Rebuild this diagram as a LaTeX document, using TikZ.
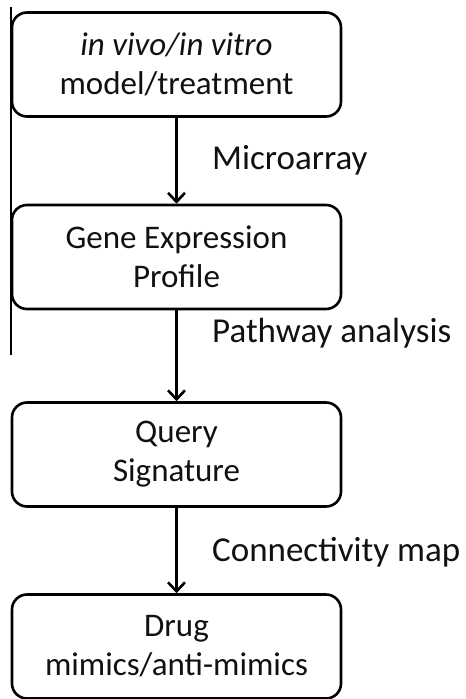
\documentclass[tikz,border=0pt]{standalone}
\usepackage{fontspec}
\setmainfont{Carlito}
\usetikzlibrary{arrows.meta}
\definecolor{ink}{HTML}{111111}
\begin{document}
\begin{tikzpicture}[x=1pt,y=-1pt,
  flowbox/.style={draw=black, line width=2.6pt, rounded corners=15pt,
    minimum width=329pt, minimum height=104pt, align=center,
    font=\fontsize{33}{39}\selectfont, text=ink, inner sep=0pt},
  lbl/.style={anchor=west, font=\fontsize{35}{40}\selectfont, text=ink, inner sep=0pt},
  flow/.style={line width=2.8pt, -{Straight Barb[length=9pt,width=17pt,line width=2.6pt]}}]
\useasboundingbox (0,0) rectangle (466,699);
\fill[white] (0,0) rectangle (466,699);
\coordinate (ltop) at (11,7);
\coordinate (lbot) at (11,355);
\draw[line width=1.3pt] (ltop) -- (lbot);
\node[flowbox] (b1) at (176.5,64.5) {\textit{in vivo/in vitro}\\model/treatment};
\node[flowbox] (b2) at (176.5,257) {Gene Expression\\Profile};
\node[flowbox] (b3) at (176.5,454.5) {Query\\Signature};
\node[flowbox] (b4) at (176.5,646.5) {Drug\\mimics/anti-mimics};
\draw[flow] (b1) -- (b2);
\draw[flow] (b2) -- (b3);
\draw[flow] (b3) -- (b4);
\node[lbl] (l1) at (212,160) {Microarray};
\node[lbl] (l2) at (212,333) {Pathway analysis};
\node[lbl] (l3) at (212,552) {Connectivity map};
\end{tikzpicture}
\end{document}
